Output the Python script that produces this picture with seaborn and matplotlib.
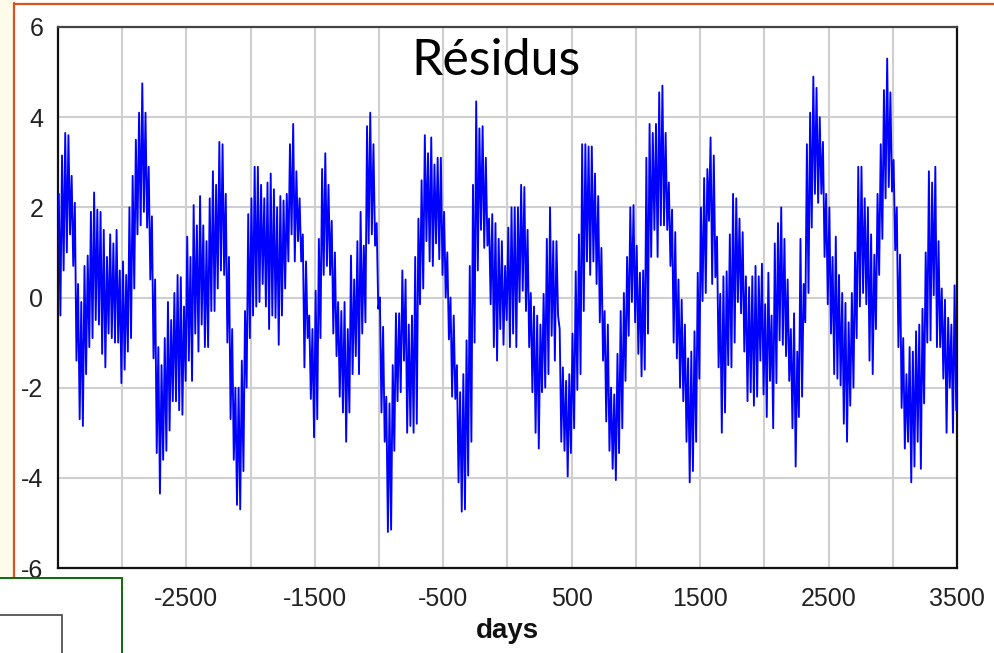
import numpy as np
import pandas as pd
import matplotlib
matplotlib.use("Agg")
import matplotlib.pyplot as plt
import seaborn as sns
from matplotlib.patches import Rectangle
from matplotlib.lines import Line2D

# ---------------- data ----------------
title = "Résidus"
x_label = "days"
x_tick_labels = [-2500, -1500, -500, 500, 1500, 2500, 3500]
x_grid_extra = [-3000, -2000, -1000, 0, 1000, 2000, 3000]
y_tick_labels = [-6, -4, -2, 0, 2, 4, 6]

first_day = -3493.75
day_step = 12.5
residus = [
    2.3, -0.4, 3.15, 0.6,      3.65, 1.0, 3.6, 1.4,
    2.7, 0.7, 2.1, -1.4,       0.3, -2.7, -0.1, -2.85,
    0.7, -1.7, 0.93, -1.1,     1.9, -0.9, 2.33, -0.5,
    1.95, -0.6, 1.9, -1.25,    1.5, -1.55, 0.9, -0.8,
    1.4, -0.9, 1.2, -1.0,      1.5, -1.0, 0.6, -1.9,
    0.8, -1.6, 0.5, -1.2,      2.0, -0.9, 2.7, 0.2,
    3.5, 1.4, 4.1, 1.6,        4.75, 1.9, 4.1, 1.55,
    2.9, 0.4, 1.8, -1.35,      0.4, -3.45, -1.1, -4.35,
    -1.5, -3.6, -0.9, -3.4,    -0.1, -2.95, -0.5, -2.3,
    0.1, -2.3, 0.5, -2.5,      0.45, -2.6, -0.2, -1.85,
    1.35, -1.4, 0.9, -1.85,    2.05, -0.8, 1.6, -1.2,
    2.25, -0.6, 1.6, -1.1,     1.25, -1.1, 2.2, -0.3,
    2.8, -0.3, 2.5, 0.2,       3.45, 0.6, 3.4, 0.5,
    2.3, -1.0, 0.9, -2.7,      -0.7, -3.6, -2.0, -4.6,
    -2.0, -4.7, -1.4, -3.85,   -0.3, -2.0, 1.85, -0.9,
    2.2, -0.4, 2.9, -0.2,      2.9, -0.1, 2.5, 0.3,
    2.2, -0.2, 2.55, -0.7,     2.75, -0.4, 2.4, -0.45,
    2.0, -1.05, 2.25, -0.4,    2.15, 0.2, 2.3, 0.8,
    3.4, 1.4, 3.85, 0.8,       2.8, 1.25, 2.2, 0.8,
    1.4, -1.55, 0.8, -0.9,     -0.4, -2.25, -0.7, -3.1,
    0.15, -2.7, 1.3, -0.9,     2.85, 0.5, 3.2, 0.7,
    2.5, 0.5, 1.7, -0.8,       1.0, -1.3, -0.1, -2.2,
    -0.3, -2.55, -0.1, -3.2,   -0.7, -2.55, 0.93, -1.7,
    0.4, -1.3, 1.25, -1.7,     1.9, -0.8, 1.15, -0.55,
    3.8, 1.2, 4.1, 1.4,        3.4, 1.15, 1.65, -0.25,
    0.0, -2.55, -0.65, -3.2,   -2.2, -5.2, -2.35, -5.15,
    -1.5, -3.4, -0.35, -2.3,   -0.35, -2.1, 0.6, -1.4,
    0.4, -3.0, -0.6, -2.85,    -0.4, -3.0, 0.9, -2.8,
    1.75, -0.15, 2.6, 0.2,     3.6, 1.25, 3.2, 0.8,
    3.55, 0.7, 2.95, 1.2,      3.1, 0.85, 3.1, 0.5,
    1.9, 0.0, 1.0, -0.93,      0.0, -2.2, -0.4, -2.25,
    -1.5, -4.1, -2.1, -4.75,   -1.7, -4.7, -0.95, -3.95,
    0.7, -3.2, 2.5, -1.0,      4.35, 0.6, 3.75, 1.5,
    3.8, 1.1, 3.1, 1.15,       1.75, -0.15, 1.85, -1.1,
    1.65, -1.4, 1.3, -0.7,     1.25, -1.05, 0.7, -0.5,
    1.55, -1.1, 2.0, -0.8,     2.0, -1.1, 2.0, -0.1,
    2.5, 0.15, 2.45, -0.3,     1.5, -1.1, 0.1, -2.1,
    -0.2, -3.0, -0.4, -3.35,   -0.6, -2.1, 0.08, -2.0,
    1.3, -1.7, 2.0, -0.85,     1.25, -1.4, 1.25, -0.4,
    -0.7, -3.2, -1.55, -3.4,   -1.85, -3.97, -1.7, -3.45,
    -0.8, -2.9, 0.58, -2.05,   1.4, -1.7, 3.4, -0.3,
    3.4, 0.8, 3.35, 0.5,       3.35, 0.8, 2.75, 0.3,
    2.25, -0.55, 1.1, -1.4,    -0.3, -2.75, -0.6, -3.4,
    -2.0, -3.8, -2.15, -4.05,  -1.25, -3.45, -0.3, -2.9,
    0.1, -1.85, 0.9, -0.85,    2.0, -0.1, 2.05, -0.55,
    1.15, -1.25, 0.55, -1.75,  0.6, -1.6, 3.1, -0.8,
    3.85, 0.9, 3.65, 1.5,      3.85, 0.9, 4.55, 1.6,
    4.7, 1.6, 3.65, 1.5,       2.55, 0.7, 1.95, -1.0,
    1.45, -1.35, 0.4, -2.0,    -0.05, -2.3, -0.6, -3.2,
    -1.35, -4.1, -1.2, -3.85,  -0.75, -3.2, 0.55, -1.8,
    2.0, -0.08, 2.65, 0.1,     2.85, 1.7, 3.55, 0.3,
    3.15, 0.45, 1.35, -1.55,   0.08, -3.0, 0.47, -2.55,
    0.58, -1.5, 1.4, -1.55,    2.3, -1.0, 2.2, -0.1,
    1.75, -0.35, 1.45, -1.2,   0.47, -2.3, 0.23, -2.1,
    0.47, -2.4, 0.7, -2.2,     0.47, -1.4, 0.75, -2.15,
    -0.15, -2.65, 0.55, -1.85, -0.4, -2.9, 1.2, -1.9,
    1.65, -0.95, 2.0, -1.05,   1.3, -1.3, 0.4, -1.85,
    -0.7, -2.9, -0.35, -3.75,  -1.2, -2.65, 1.3, -2.2,
    0.3, -0.55, 3.4, 0.1,      4.1, 1.55, 4.9, 2.3,
    4.65, 2.1, 4.0, 2.3,       3.45, 0.9, 2.3, -0.15,
    2.0, -0.8, 0.9, -1.7,      1.35, -1.8, 0.5, -1.95,
    0.1, -2.8, -0.12, -3.2,    -0.55, -2.4, 0.1, -2.0,
    1.0, -0.9, 2.9, -0.2,      2.9, 0.1, 2.2, -0.15,
    2.0, -1.4, 1.4, -1.7,      0.95, -0.7, 2.3, 0.5,
    3.4, 1.3, 4.6, 2.2,        5.3, 2.45, 4.55, 2.35,
    3.05, 1.05, 2.0, -1.1,     0.95, -2.45, -0.9, -3.35,
    -1.7, -3.2, -1.1, -4.1,    -1.2, -3.75, -0.75, -3.2,
    -0.6, -3.8, -0.25, -2.35,  1.0, -1.0, 2.8, -0.95,
    2.55, 0.05, 2.9, -1.1,     1.25, -1.1, 0.2, -1.8,
    -0.05, -3.0, -0.45, -2.0,  -0.6, -3.0, 0.27, -2.5,
]

days = first_day + day_step * np.arange(len(residus))
df = pd.DataFrame({"days": days, "residus": residus})

# ---------------- figure ----------------
W, H = 995, 653
sns.set_style("white")
plt.rcParams["font.family"] = ["Liberation Sans", "DejaVu Sans"]

fig = plt.figure(figsize=(W / 100, H / 100), dpi=100)
fig.patch.set_facecolor("white")

def fx(px):
    return px / W

def fy(py):
    return 1 - py / H

ax_l, ax_r, ax_t, ax_b = 58, 957, 27, 568
ax = fig.add_axes([fx(ax_l), fy(ax_b), fx(ax_r - ax_l), (ax_b - ax_t) / H])

sns.lineplot(data=df, x="days", y="residus", ax=ax, color="#0000ff",
             linewidth=1.35, estimator=None, sort=False, zorder=3)

ax.set_xlim(-3500, 3500)
ax.set_ylim(-6, 6)
ax.set_xticks(x_tick_labels)
ax.set_xticklabels([str(v) for v in x_tick_labels])
ax.set_xticks(x_grid_extra, minor=True)
ax.set_yticks(y_tick_labels)
ax.set_yticklabels([str(v) for v in y_tick_labels])

ax.grid(True, which="both", color="#cfcfcf", linewidth=1.5, zorder=0)
ax.set_axisbelow(True)
ax.tick_params(axis="both", which="both", length=0, labelsize=18,
               labelcolor="#222222")
ax.tick_params(axis="x", pad=13.5)
ax.tick_params(axis="y", pad=10.5)

for side, sp in ax.spines.items():
    sp.set_visible(True)
    sp.set_linewidth(1.6)
    sp.set_color("#111111")
ax.spines["top"].set_color("#444444")

ax.set_xlabel(x_label, fontsize=20, fontweight="bold", color="#111111", labelpad=5)
ax.set_ylabel("")

ax.text((496.5 - ax_l) / (ax_r - ax_l), (ax_b - 75) / (ax_b - ax_t), title,
        transform=ax.transAxes, ha="center", va="baseline",
        fontsize=36, family=["Lato", "DejaVu Sans"], color="black", zorder=5)

# ---------------- surrounding screenshot decorations ----------------
fig.add_artist(Rectangle((0, fy(578)), fx(14), 1 - fy(578), transform=fig.transFigure,
                         facecolor="#fffbea", edgecolor="none", zorder=1))
fig.add_artist(Line2D([fx(14.5), fx(14.5)], [fy(3), fy(578)], transform=fig.transFigure,
                      color="#d9531e", linewidth=1.6, zorder=2))
fig.add_artist(Line2D([fx(14), fx(995)], [fy(3.5), fy(3.5)], transform=fig.transFigure,
                      color="#d9531e", linewidth=1.6, zorder=2))
fig.add_artist(Rectangle((fx(-2), fy(660)), fx(124), fy(578) - fy(660), transform=fig.transFigure,
                         facecolor="white", edgecolor="#0b6e0b", linewidth=1.4, zorder=10))
fig.add_artist(Rectangle((fx(-2), fy(660)), fx(64), fy(615) - fy(660), transform=fig.transFigure,
                         facecolor="white", edgecolor="#444444", linewidth=1.2, zorder=11))

fig.savefig("out.png", dpi=100)
